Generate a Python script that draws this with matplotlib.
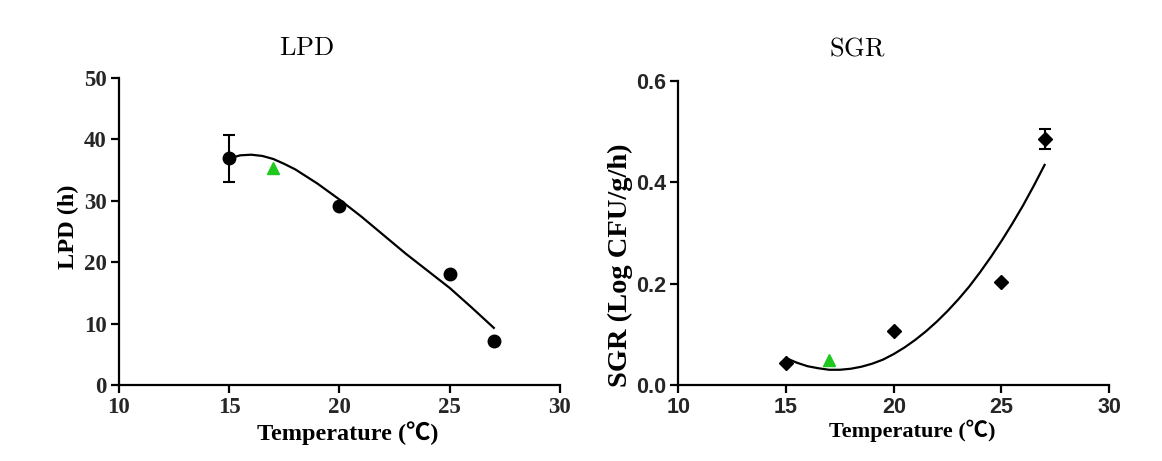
import numpy as np
import matplotlib
matplotlib.use("Agg")
import matplotlib.pyplot as plt

plt.rcParams['mathtext.fontset'] = 'cm'

# LPD data (h)
lpd_temp = [15, 20, 25, 27]
lpd_val = [36.9, 29.1, 18.1, 7.2]
lpd_err = [3.8, 0, 0, 0]
lpd_pred_temp = [17]
lpd_pred_val = [35.3]
# fitted curve
lpd_fit_temp = [15, 15.5, 16, 16.5, 17, 17.5, 18, 19, 20, 21, 22, 23, 24, 25, 26, 27]
lpd_fit_val = [36.9, 37.4, 37.5, 37.3, 36.8, 36.0, 35.1, 32.8, 30.2, 27.4, 24.4, 21.4, 18.6, 15.8, 12.6, 9.3]

# SGR data (Log CFU/g/h)
sgr_temp = [15, 20, 25, 27]
sgr_val = [0.043, 0.107, 0.204, 0.485]
sgr_err = [0, 0, 0, 0.019]
sgr_pred_temp = [17]
sgr_pred_val = [0.049]
sgr_fit_temp = [15, 15.5, 16, 16.5, 17, 17.5, 18, 18.5, 19, 19.5, 20, 20.5, 21, 21.5, 22,
                22.5, 23, 23.5, 24, 24.5, 25, 25.5, 26, 26.5, 27]
sgr_fit_val = [0.053, 0.044, 0.037, 0.033, 0.030, 0.030, 0.032, 0.036, 0.042, 0.050, 0.061,
               0.074, 0.089, 0.106, 0.125, 0.146, 0.169, 0.194, 0.222, 0.252, 0.284,
               0.318, 0.354, 0.393, 0.434]

fig = plt.figure(figsize=(11.62, 4.61), dpi=100)
ax1 = fig.add_axes([0.1024, 0.1649, 0.3795, 0.666])
ax2 = fig.add_axes([0.5837, 0.1649, 0.3709, 0.660])

serif_b = dict(family=['Liberation Serif', 'Noto Sans CJK SC'], weight='bold')


def style_axes(ax, tick_family, size):
    for s in ['top', 'right']:
        ax.spines[s].set_visible(False)
    for s in ['left', 'bottom']:
        ax.spines[s].set_linewidth(1.6)
    ax.tick_params(width=1.6, length=6, direction='out', labelsize=size, pad=3)
    for lab in ax.get_xticklabels() + ax.get_yticklabels():
        lab.set_family(tick_family)
        lab.set_fontweight('bold')
        lab.set_color('#262626')


# left panel
ax1.plot(lpd_fit_temp, lpd_fit_val, color='black', lw=1.6)
ax1.errorbar(lpd_temp, lpd_val, yerr=lpd_err, fmt='o', color='black', ms=9,
             capsize=4, elinewidth=1.5, capthick=1.5)
ax1.plot(lpd_pred_temp, lpd_pred_val, '^', color='#1ec81e', ms=8)
ax1.set_xlim(10, 30)
ax1.set_ylim(0, 50)
ax1.set_xticks([10, 15, 20, 25, 30])
ax1.set_yticks([0, 10, 20, 30, 40, 50])
style_axes(ax1, 'Liberation Serif', 16.5)
ax1.set_xlabel('Temperature (℃)', fontsize=17.5, **serif_b)
ax1.xaxis.set_label_coords(0.518, -0.117)
ax1.set_ylabel('LPD (h)', fontsize=17.5, **serif_b)
ax1.yaxis.set_label_coords(-0.09, 0.515)

# right panel
ax2.plot(sgr_fit_temp, sgr_fit_val, color='black', lw=1.6)
ax2.errorbar(sgr_temp, sgr_val, yerr=sgr_err, fmt='D', color='black', ms=7,
             capsize=4, elinewidth=1.5, capthick=1.5)
ax2.plot(sgr_pred_temp, sgr_pred_val, '^', color='#1ec81e', ms=8)
ax2.set_xlim(10, 30)
ax2.set_ylim(0, 0.6)
ax2.set_xticks([10, 15, 20, 25, 30])
ax2.set_yticks([0.0, 0.2, 0.4, 0.6])
ax2.set_yticklabels(['0.0', '0.2', '0.4', '0.6'])
style_axes(ax2, 'Liberation Sans', 15.5)
ax2.set_xlabel('Temperature (℃)', fontsize=16, **serif_b)
ax2.xaxis.set_label_coords(0.542, -0.115)
ax2.set_ylabel('SGR (Log CFU/g/h)', fontsize=20.5, **serif_b)
ax2.yaxis.set_label_coords(-0.105, 0.394)

fig.text(307 / 1162, 1 - 48 / 461, r'$\mathrm{LPD}$', fontsize=19, ha='center', va='center')
fig.text(857 / 1162, 1 - 48 / 461, r'$\mathrm{SGR}$', fontsize=19, ha='center', va='center')

fig.savefig('out.png', dpi=100)
